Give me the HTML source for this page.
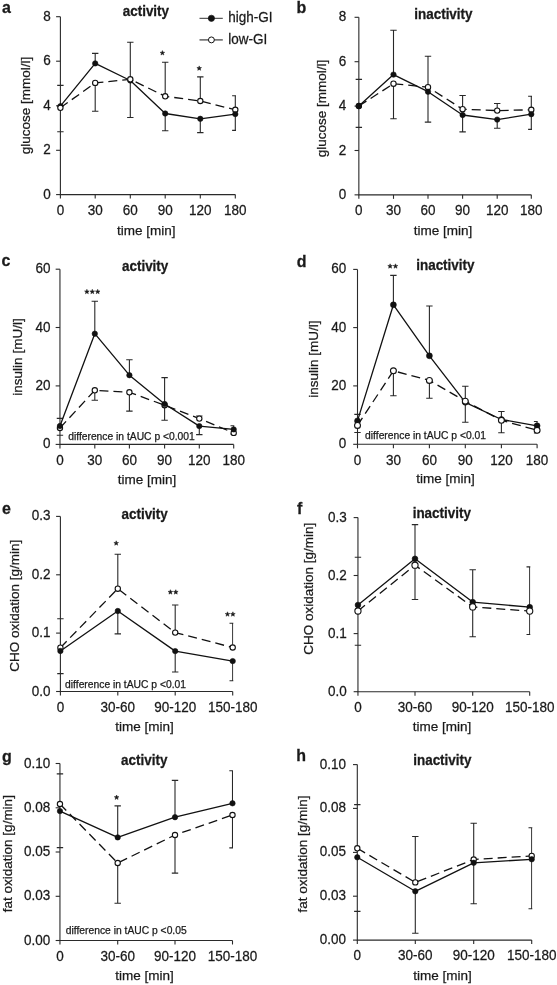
<!DOCTYPE html>
<html><head><meta charset="utf-8"><style>
html,body{margin:0;padding:0;background:#fff;}body{width:557px;height:985px;overflow:hidden;}
svg{display:block;will-change:transform;}
text{font-family:"Liberation Sans", sans-serif;fill:#1a1a1a;stroke:#1a1a1a;stroke-width:0.25px;}
</style></head><body>
<svg width="557" height="985" viewBox="0 0 557 985">
<rect width="557" height="985" fill="#fff"/>
<g><path d="M60.4 16.7V194.6H235.3" fill="none" stroke="#2a2a2a" stroke-width="1.1"/><path d="M56.1 194.6H60.4" stroke="#2a2a2a" stroke-width="1.1"/><text transform="translate(50.7 198.65) scale(1 1.045)" font-size="13.5" text-anchor="end" font-weight="normal">0</text><path d="M56.1 150.3H60.4" stroke="#2a2a2a" stroke-width="1.1"/><text transform="translate(50.7 154.35) scale(1 1.045)" font-size="13.5" text-anchor="end" font-weight="normal">2</text><path d="M56.1 105.8H60.4" stroke="#2a2a2a" stroke-width="1.1"/><text transform="translate(50.7 109.85) scale(1 1.045)" font-size="13.5" text-anchor="end" font-weight="normal">4</text><path d="M56.1 61.2H60.4" stroke="#2a2a2a" stroke-width="1.1"/><text transform="translate(50.7 65.25) scale(1 1.045)" font-size="13.5" text-anchor="end" font-weight="normal">6</text><path d="M56.1 16.7H60.4" stroke="#2a2a2a" stroke-width="1.1"/><text transform="translate(50.7 20.75) scale(1 1.045)" font-size="13.5" text-anchor="end" font-weight="normal">8</text><path d="M60.4 194.6V198.6" stroke="#2a2a2a" stroke-width="1.1"/><text transform="translate(60.4 214.8) scale(1 1.045)" font-size="13.5" text-anchor="middle" font-weight="normal">0</text><path d="M95.2 194.6V198.6" stroke="#2a2a2a" stroke-width="1.1"/><text transform="translate(95.2 214.8) scale(1 1.045)" font-size="13.5" text-anchor="middle" font-weight="normal">30</text><path d="M130.3 194.6V198.6" stroke="#2a2a2a" stroke-width="1.1"/><text transform="translate(130.3 214.8) scale(1 1.045)" font-size="13.5" text-anchor="middle" font-weight="normal">60</text><path d="M165.2 194.6V198.6" stroke="#2a2a2a" stroke-width="1.1"/><text transform="translate(165.2 214.8) scale(1 1.045)" font-size="13.5" text-anchor="middle" font-weight="normal">90</text><path d="M200.3 194.6V198.6" stroke="#2a2a2a" stroke-width="1.1"/><text transform="translate(200.3 214.8) scale(1 1.045)" font-size="13.5" text-anchor="middle" font-weight="normal">120</text><path d="M235.3 194.6V198.6" stroke="#2a2a2a" stroke-width="1.1"/><text transform="translate(235.3 214.8) scale(1 1.045)" font-size="13.5" text-anchor="middle" font-weight="normal">180</text><clipPath id="clip0"><rect x="0" y="0" width="235.9" height="985"/></clipPath><path clip-path="url(#clip0)" d="M57.2 85.4H63.6M57.2 131.8H63.6M95.2 63.4V53.4M92 53.4H98.4M95.2 82.9V111.3M92 111.3H98.4M130.3 79.3V42.3M127.1 42.3H133.5M130.3 80.5V117.5M127.1 117.5H133.5M165.2 96.3V62.2M162 62.2H168.4M165.2 113.5V130.7M162 130.7H168.4M200.3 101V76.9M197.1 76.9H203.5M200.3 118.8V132.6M197.1 132.6H203.5M235.3 109.8V95.8M232.1 95.8H238.5M235.3 114.1V130.4M232.1 130.4H238.5" fill="none" stroke="#282828" stroke-width="1.1"/><polyline points="60.4,106.2 95.2,63.4 130.3,80.5 165.2,113.5 200.3,118.8 235.3,114.1" fill="none" stroke="#111" stroke-width="1.3" stroke-linejoin="round"/><polyline points="60.4,107.8 95.2,82.9 130.3,79.3 165.2,96.3 200.3,101 235.3,109.8" fill="none" stroke="#111" stroke-width="1.3" stroke-dasharray="9 5"/><circle cx="60.4" cy="106.2" r="2.7" fill="#111" stroke="#111" stroke-width="0.6"/><circle cx="60.4" cy="107.8" r="2.65" fill="#fff" stroke="#111" stroke-width="1.1"/><circle cx="95.2" cy="63.4" r="2.7" fill="#111" stroke="#111" stroke-width="0.6"/><circle cx="95.2" cy="82.9" r="2.65" fill="#fff" stroke="#111" stroke-width="1.1"/><circle cx="130.3" cy="80.5" r="2.7" fill="#111" stroke="#111" stroke-width="0.6"/><circle cx="130.3" cy="79.3" r="2.65" fill="#fff" stroke="#111" stroke-width="1.1"/><circle cx="165.2" cy="113.5" r="2.7" fill="#111" stroke="#111" stroke-width="0.6"/><circle cx="165.2" cy="96.3" r="2.65" fill="#fff" stroke="#111" stroke-width="1.1"/><circle cx="200.3" cy="118.8" r="2.7" fill="#111" stroke="#111" stroke-width="0.6"/><circle cx="200.3" cy="101" r="2.65" fill="#fff" stroke="#111" stroke-width="1.1"/><circle cx="235.3" cy="109.8" r="2.65" fill="#fff" stroke="#111" stroke-width="1.1"/><circle cx="235.3" cy="114.1" r="2.7" fill="#111" stroke="#111" stroke-width="0.6"/><polygon points="162.4,50.6 163.02,52.2 164.73,52.29 163.4,53.37 163.84,55.03 162.4,54.1 160.96,55.03 161.4,53.37 160.07,52.29 161.78,52.2" fill="#1a1a1a" stroke="#1a1a1a" stroke-width="0.5" stroke-linejoin="round"/><polygon points="199.2,65.9 199.82,67.5 201.53,67.59 200.2,68.67 200.64,70.33 199.2,69.4 197.76,70.33 198.2,68.67 196.87,67.59 198.58,67.5" fill="#1a1a1a" stroke="#1a1a1a" stroke-width="0.5" stroke-linejoin="round"/><text transform="translate(145.9 15.9) scale(1 1.05)" font-size="13.45" text-anchor="middle" font-weight="bold">activity</text><text transform="translate(2 12.6) scale(1 1.06)" font-size="16" text-anchor="start" font-weight="bold">a</text><text transform="translate(29.6 105.4) rotate(-90)" font-size="13.5" text-anchor="middle">glucose [mmol/l]</text><text x="146.35" y="234.8" font-size="13.5" text-anchor="middle" font-weight="normal">time [min]</text><path d="M199.5 18.3H222.8" stroke="#1a1a1a" stroke-width="0.9"/><path d="M199.5 39.9H222.8" stroke="#4a4a4a" stroke-width="1.3"/><circle cx="211.4" cy="18.3" r="3.15" fill="#111" stroke="#111" stroke-width="0.6"/><circle cx="211.4" cy="39.9" r="2.95" fill="#fff" stroke="#111" stroke-width="1.0"/><text transform="translate(228.3 22.4) scale(1 1.05)" font-size="13.5" text-anchor="start" font-weight="normal">high-GI</text><text transform="translate(228.3 44) scale(1 1.05)" font-size="13.5" text-anchor="start" font-weight="normal">low-GI</text></g>
<g><path d="M358.85 17.3V194.85H531.3" fill="none" stroke="#2a2a2a" stroke-width="1.1"/><path d="M354.55 194.85H358.85" stroke="#2a2a2a" stroke-width="1.1"/><text transform="translate(346.25 198.9) scale(1 1.045)" font-size="13.5" text-anchor="end" font-weight="normal">0</text><path d="M354.55 150.5H358.85" stroke="#2a2a2a" stroke-width="1.1"/><text transform="translate(346.25 154.55) scale(1 1.045)" font-size="13.5" text-anchor="end" font-weight="normal">2</text><path d="M354.55 106.1H358.85" stroke="#2a2a2a" stroke-width="1.1"/><text transform="translate(346.25 110.15) scale(1 1.045)" font-size="13.5" text-anchor="end" font-weight="normal">4</text><path d="M354.55 61.7H358.85" stroke="#2a2a2a" stroke-width="1.1"/><text transform="translate(346.25 65.75) scale(1 1.045)" font-size="13.5" text-anchor="end" font-weight="normal">6</text><path d="M354.55 17.3H358.85" stroke="#2a2a2a" stroke-width="1.1"/><text transform="translate(346.25 21.35) scale(1 1.045)" font-size="13.5" text-anchor="end" font-weight="normal">8</text><path d="M358.85 194.85V198.85" stroke="#2a2a2a" stroke-width="1.1"/><text transform="translate(358.85 215.05) scale(1 1.045)" font-size="13.5" text-anchor="middle" font-weight="normal">0</text><path d="M393.5 194.85V198.85" stroke="#2a2a2a" stroke-width="1.1"/><text transform="translate(393.5 215.05) scale(1 1.045)" font-size="13.5" text-anchor="middle" font-weight="normal">30</text><path d="M428 194.85V198.85" stroke="#2a2a2a" stroke-width="1.1"/><text transform="translate(428 215.05) scale(1 1.045)" font-size="13.5" text-anchor="middle" font-weight="normal">60</text><path d="M462.6 194.85V198.85" stroke="#2a2a2a" stroke-width="1.1"/><text transform="translate(462.6 215.05) scale(1 1.045)" font-size="13.5" text-anchor="middle" font-weight="normal">90</text><path d="M497.2 194.85V198.85" stroke="#2a2a2a" stroke-width="1.1"/><text transform="translate(497.2 215.05) scale(1 1.045)" font-size="13.5" text-anchor="middle" font-weight="normal">120</text><path d="M531.3 194.85V198.85" stroke="#2a2a2a" stroke-width="1.1"/><text transform="translate(531.3 215.05) scale(1 1.045)" font-size="13.5" text-anchor="middle" font-weight="normal">180</text><clipPath id="clip1"><rect x="0" y="0" width="531.9" height="985"/></clipPath><path clip-path="url(#clip1)" d="M355.65 79.4H362.05M355.65 127.4H362.05M393.5 74.6V30.2M390.3 30.2H396.7M393.5 83.7V118.7M390.3 118.7H396.7M428 87.2V56.3M424.8 56.3H431.2M428 91.7V122.1M424.8 122.1H431.2M462.6 109.2V95.5M459.4 95.5H465.8M462.6 115V131.9M459.4 131.9H465.8M497.2 110.6V103.5M494 103.5H500.4M497.2 119.6V128.2M494 128.2H500.4M531.3 109.8V96.3M528.1 96.3H534.5M531.3 114.2V129.4M528.1 129.4H534.5" fill="none" stroke="#282828" stroke-width="1.1"/><polyline points="358.85,106 393.5,74.6 428,91.7 462.6,115 497.2,119.6 531.3,114.2" fill="none" stroke="#111" stroke-width="1.3" stroke-linejoin="round"/><polyline points="358.85,106 393.5,83.7 428,87.2 462.6,109.2 497.2,110.6 531.3,109.8" fill="none" stroke="#111" stroke-width="1.3" stroke-dasharray="9 5"/><circle cx="358.85" cy="106" r="2.65" fill="#fff" stroke="#111" stroke-width="1.1"/><circle cx="358.85" cy="106" r="2.7" fill="#111" stroke="#111" stroke-width="0.6"/><circle cx="393.5" cy="83.7" r="2.65" fill="#fff" stroke="#111" stroke-width="1.1"/><circle cx="393.5" cy="74.6" r="2.7" fill="#111" stroke="#111" stroke-width="0.6"/><circle cx="428" cy="87.2" r="2.65" fill="#fff" stroke="#111" stroke-width="1.1"/><circle cx="428" cy="91.7" r="2.7" fill="#111" stroke="#111" stroke-width="0.6"/><circle cx="462.6" cy="109.2" r="2.65" fill="#fff" stroke="#111" stroke-width="1.1"/><circle cx="462.6" cy="115" r="2.7" fill="#111" stroke="#111" stroke-width="0.6"/><circle cx="497.2" cy="110.6" r="2.65" fill="#fff" stroke="#111" stroke-width="1.1"/><circle cx="497.2" cy="119.6" r="2.7" fill="#111" stroke="#111" stroke-width="0.6"/><circle cx="531.3" cy="109.8" r="2.65" fill="#fff" stroke="#111" stroke-width="1.1"/><circle cx="531.3" cy="114.2" r="2.7" fill="#111" stroke="#111" stroke-width="0.6"/><text transform="translate(443.4 18.8) scale(1 1.05)" font-size="13.45" text-anchor="middle" font-weight="bold">inactivity</text><text transform="translate(296.5 12.6) scale(1 1.06)" font-size="16" text-anchor="start" font-weight="bold">b</text><text transform="translate(326.1 108.6) rotate(-90)" font-size="13.5" text-anchor="middle">glucose [mmol/l]</text><text x="443" y="235.1" font-size="13.5" text-anchor="middle" font-weight="normal">time [min]</text></g>
<g><path d="M59.95 269.2V444.4H233.7" fill="none" stroke="#2a2a2a" stroke-width="1.1"/><path d="M55.65 444.4H59.95" stroke="#2a2a2a" stroke-width="1.1"/><text transform="translate(50.5 448.45) scale(1 1.045)" font-size="13.5" text-anchor="end" font-weight="normal">0</text><path d="M55.65 385.9H59.95" stroke="#2a2a2a" stroke-width="1.1"/><text transform="translate(50.5 389.95) scale(1 1.045)" font-size="13.5" text-anchor="end" font-weight="normal">20</text><path d="M55.65 327.5H59.95" stroke="#2a2a2a" stroke-width="1.1"/><text transform="translate(50.5 331.55) scale(1 1.045)" font-size="13.5" text-anchor="end" font-weight="normal">40</text><path d="M55.65 269.2H59.95" stroke="#2a2a2a" stroke-width="1.1"/><text transform="translate(50.5 273.25) scale(1 1.045)" font-size="13.5" text-anchor="end" font-weight="normal">60</text><path d="M59.95 444.4V448.4" stroke="#2a2a2a" stroke-width="1.1"/><text transform="translate(59.95 464.6) scale(1 1.045)" font-size="13.5" text-anchor="middle" font-weight="normal">0</text><path d="M94.8 444.4V448.4" stroke="#2a2a2a" stroke-width="1.1"/><text transform="translate(94.8 464.6) scale(1 1.045)" font-size="13.5" text-anchor="middle" font-weight="normal">30</text><path d="M129.4 444.4V448.4" stroke="#2a2a2a" stroke-width="1.1"/><text transform="translate(129.4 464.6) scale(1 1.045)" font-size="13.5" text-anchor="middle" font-weight="normal">60</text><path d="M164.6 444.4V448.4" stroke="#2a2a2a" stroke-width="1.1"/><text transform="translate(164.6 464.6) scale(1 1.045)" font-size="13.5" text-anchor="middle" font-weight="normal">90</text><path d="M199.3 444.4V448.4" stroke="#2a2a2a" stroke-width="1.1"/><text transform="translate(199.3 464.6) scale(1 1.045)" font-size="13.5" text-anchor="middle" font-weight="normal">120</text><path d="M233.7 444.4V448.4" stroke="#2a2a2a" stroke-width="1.1"/><text transform="translate(233.7 464.6) scale(1 1.045)" font-size="13.5" text-anchor="middle" font-weight="normal">180</text><clipPath id="clip2"><rect x="0" y="0" width="234.3" height="985"/></clipPath><path clip-path="url(#clip2)" d="M56.75 418.4H63.15M56.75 435.3H63.15M94.8 333.7V301.3M91.6 301.3H98M94.8 390.3V400.3M91.6 400.3H98M129.4 375.2V359.8M126.2 359.8H132.6M129.4 392.3V411.1M126.2 411.1H132.6M164.6 404V377.6M161.4 377.6H167.8M164.6 405.2V420.3M161.4 420.3H167.8M199.3 418.6V416M196.1 416H202.5M199.3 426.1V434.6M196.1 434.6H202.5M233.7 429.4V425.8M230.5 425.8H236.9M233.7 432.9V434M230.5 434H236.9" fill="none" stroke="#282828" stroke-width="1.1"/><polyline points="59.95,426 94.8,333.7 129.4,375.2 164.6,404 199.3,426.1 233.7,429.4" fill="none" stroke="#111" stroke-width="1.3" stroke-linejoin="round"/><polyline points="59.95,428 94.8,390.3 129.4,392.3 164.6,405.2 199.3,418.6 233.7,432.9" fill="none" stroke="#111" stroke-width="1.3" stroke-dasharray="9 5"/><circle cx="59.95" cy="428" r="2.65" fill="#fff" stroke="#111" stroke-width="1.1"/><circle cx="59.95" cy="426" r="2.7" fill="#111" stroke="#111" stroke-width="0.6"/><circle cx="94.8" cy="390.3" r="2.65" fill="#fff" stroke="#111" stroke-width="1.1"/><circle cx="94.8" cy="333.7" r="2.7" fill="#111" stroke="#111" stroke-width="0.6"/><circle cx="129.4" cy="392.3" r="2.65" fill="#fff" stroke="#111" stroke-width="1.1"/><circle cx="129.4" cy="375.2" r="2.7" fill="#111" stroke="#111" stroke-width="0.6"/><circle cx="164.6" cy="405.2" r="2.65" fill="#fff" stroke="#111" stroke-width="1.1"/><circle cx="164.6" cy="404" r="2.7" fill="#111" stroke="#111" stroke-width="0.6"/><circle cx="199.3" cy="418.6" r="2.65" fill="#fff" stroke="#111" stroke-width="1.1"/><circle cx="199.3" cy="426.1" r="2.7" fill="#111" stroke="#111" stroke-width="0.6"/><circle cx="233.7" cy="432.9" r="2.65" fill="#fff" stroke="#111" stroke-width="1.1"/><circle cx="233.7" cy="429.4" r="2.7" fill="#111" stroke="#111" stroke-width="0.6"/><polygon points="86.9,289.3 87.52,290.9 89.23,290.99 87.9,292.07 88.34,293.73 86.9,292.8 85.46,293.73 85.9,292.07 84.57,290.99 86.28,290.9" fill="#1a1a1a" stroke="#1a1a1a" stroke-width="0.5" stroke-linejoin="round"/><polygon points="92.3,289.3 92.92,290.9 94.63,290.99 93.3,292.07 93.74,293.73 92.3,292.8 90.86,293.73 91.3,292.07 89.97,290.99 91.68,290.9" fill="#1a1a1a" stroke="#1a1a1a" stroke-width="0.5" stroke-linejoin="round"/><polygon points="97.7,289.3 98.32,290.9 100.03,290.99 98.7,292.07 99.14,293.73 97.7,292.8 96.26,293.73 96.7,292.07 95.37,290.99 97.08,290.9" fill="#1a1a1a" stroke="#1a1a1a" stroke-width="0.5" stroke-linejoin="round"/><text transform="translate(145.15 270.9) scale(1 1.05)" font-size="13.45" text-anchor="middle" font-weight="bold">activity</text><text transform="translate(1.5 266.1) scale(1 1.06)" font-size="16" text-anchor="start" font-weight="bold">c</text><text transform="translate(21.9 357) rotate(-90)" font-size="13.5" text-anchor="middle">insulin [mU/l]</text><text x="147.1" y="484.3" font-size="13.5" text-anchor="middle" font-weight="normal">time [min]</text><text x="68.2" y="439.6" font-size="10.3" text-anchor="start" font-weight="normal">difference in tAUC p <0.001</text></g>
<g><path d="M357.5 269.4V444.3H537.1" fill="none" stroke="#2a2a2a" stroke-width="1.1"/><path d="M353.2 444.3H357.5" stroke="#2a2a2a" stroke-width="1.1"/><text transform="translate(346.25 448.35) scale(1 1.045)" font-size="13.5" text-anchor="end" font-weight="normal">0</text><path d="M353.2 385.9H357.5" stroke="#2a2a2a" stroke-width="1.1"/><text transform="translate(346.25 389.95) scale(1 1.045)" font-size="13.5" text-anchor="end" font-weight="normal">20</text><path d="M353.2 327.6H357.5" stroke="#2a2a2a" stroke-width="1.1"/><text transform="translate(346.25 331.65) scale(1 1.045)" font-size="13.5" text-anchor="end" font-weight="normal">40</text><path d="M353.2 269.4H357.5" stroke="#2a2a2a" stroke-width="1.1"/><text transform="translate(346.25 273.45) scale(1 1.045)" font-size="13.5" text-anchor="end" font-weight="normal">60</text><path d="M357.5 444.3V448.3" stroke="#2a2a2a" stroke-width="1.1"/><text transform="translate(357.5 464.5) scale(1 1.045)" font-size="13.5" text-anchor="middle" font-weight="normal">0</text><path d="M393.4 444.3V448.3" stroke="#2a2a2a" stroke-width="1.1"/><text transform="translate(393.4 464.5) scale(1 1.045)" font-size="13.5" text-anchor="middle" font-weight="normal">30</text><path d="M429.4 444.3V448.3" stroke="#2a2a2a" stroke-width="1.1"/><text transform="translate(429.4 464.5) scale(1 1.045)" font-size="13.5" text-anchor="middle" font-weight="normal">60</text><path d="M465.3 444.3V448.3" stroke="#2a2a2a" stroke-width="1.1"/><text transform="translate(465.3 464.5) scale(1 1.045)" font-size="13.5" text-anchor="middle" font-weight="normal">90</text><path d="M501.4 444.3V448.3" stroke="#2a2a2a" stroke-width="1.1"/><text transform="translate(501.4 464.5) scale(1 1.045)" font-size="13.5" text-anchor="middle" font-weight="normal">120</text><path d="M537.1 444.3V448.3" stroke="#2a2a2a" stroke-width="1.1"/><text transform="translate(537.1 464.5) scale(1 1.045)" font-size="13.5" text-anchor="middle" font-weight="normal">180</text><clipPath id="clip3"><rect x="0" y="0" width="537.7" height="985"/></clipPath><path clip-path="url(#clip3)" d="M354.3 414.4H360.7M354.3 432.5H360.7M393.4 304.8V275.4M390.2 275.4H396.6M393.4 370.8V395.8M390.2 395.8H396.6M429.4 355.8V306M426.2 306H432.6M429.4 380.4V398.2M426.2 398.2H432.6M465.3 401.2V386.3M462.1 386.3H468.5M465.3 402.3V422.3M462.1 422.3H468.5M501.4 419.5V411.5M498.2 411.5H504.6M501.4 420.3V432.8M498.2 432.8H504.6M537.1 425.8V421.5M533.9 421.5H540.3M537.1 430.3V433M533.9 433H540.3" fill="none" stroke="#282828" stroke-width="1.1"/><polyline points="357.5,420.9 393.4,304.8 429.4,355.8 465.3,402.3 501.4,419.5 537.1,425.8" fill="none" stroke="#111" stroke-width="1.3" stroke-linejoin="round"/><polyline points="357.5,425.4 393.4,370.8 429.4,380.4 465.3,401.2 501.4,420.3 537.1,430.3" fill="none" stroke="#111" stroke-width="1.3" stroke-dasharray="9 5"/><circle cx="357.5" cy="420.9" r="2.95" fill="#111" stroke="#111" stroke-width="0.6"/><circle cx="357.5" cy="425.4" r="2.95" fill="#fff" stroke="#111" stroke-width="1.1"/><circle cx="393.4" cy="304.8" r="2.95" fill="#111" stroke="#111" stroke-width="0.6"/><circle cx="393.4" cy="370.8" r="2.95" fill="#fff" stroke="#111" stroke-width="1.1"/><circle cx="429.4" cy="355.8" r="2.95" fill="#111" stroke="#111" stroke-width="0.6"/><circle cx="429.4" cy="380.4" r="2.95" fill="#fff" stroke="#111" stroke-width="1.1"/><circle cx="465.3" cy="402.3" r="2.95" fill="#111" stroke="#111" stroke-width="0.6"/><circle cx="465.3" cy="401.2" r="2.95" fill="#fff" stroke="#111" stroke-width="1.1"/><circle cx="501.4" cy="419.5" r="2.95" fill="#111" stroke="#111" stroke-width="0.6"/><circle cx="501.4" cy="420.3" r="2.95" fill="#fff" stroke="#111" stroke-width="1.1"/><circle cx="537.1" cy="425.8" r="2.95" fill="#111" stroke="#111" stroke-width="0.6"/><circle cx="537.1" cy="430.3" r="2.95" fill="#fff" stroke="#111" stroke-width="1.1"/><polygon points="390.1,263.8 390.72,265.4 392.43,265.49 391.1,266.57 391.54,268.23 390.1,267.3 388.66,268.23 389.1,266.57 387.77,265.49 389.48,265.4" fill="#1a1a1a" stroke="#1a1a1a" stroke-width="0.5" stroke-linejoin="round"/><polygon points="395.5,263.8 396.12,265.4 397.83,265.49 396.5,266.57 396.94,268.23 395.5,267.3 394.06,268.23 394.5,266.57 393.17,265.49 394.88,265.4" fill="#1a1a1a" stroke="#1a1a1a" stroke-width="0.5" stroke-linejoin="round"/><text transform="translate(445.35 270.2) scale(1 1.05)" font-size="13.45" text-anchor="middle" font-weight="bold">inactivity</text><text transform="translate(296.8 267.2) scale(1 1.06)" font-size="16" text-anchor="start" font-weight="bold">d</text><text transform="translate(318.3 359.2) rotate(-90)" font-size="13.5" text-anchor="middle">insulin [mU/l]</text><text x="445.5" y="483.4" font-size="13.5" text-anchor="middle" font-weight="normal">time [min]</text><text x="365.1" y="439.1" font-size="10.3" text-anchor="start" font-weight="normal">difference in tAUC p <0.01</text></g>
<g><path d="M60.4 516.4V691.5H232.7" fill="none" stroke="#2a2a2a" stroke-width="1.1"/><path d="M56.1 691.5H60.4" stroke="#2a2a2a" stroke-width="1.1"/><text transform="translate(50.5 695.55) scale(1 1.045)" font-size="13.5" text-anchor="end" font-weight="normal">0.0</text><path d="M56.1 633.1H60.4" stroke="#2a2a2a" stroke-width="1.1"/><text transform="translate(50.5 637.15) scale(1 1.045)" font-size="13.5" text-anchor="end" font-weight="normal">0.1</text><path d="M56.1 574.8H60.4" stroke="#2a2a2a" stroke-width="1.1"/><text transform="translate(50.5 578.85) scale(1 1.045)" font-size="13.5" text-anchor="end" font-weight="normal">0.2</text><path d="M56.1 516.4H60.4" stroke="#2a2a2a" stroke-width="1.1"/><text transform="translate(50.5 520.45) scale(1 1.045)" font-size="13.5" text-anchor="end" font-weight="normal">0.3</text><path d="M60.4 691.5V695.5" stroke="#2a2a2a" stroke-width="1.1"/><text transform="translate(60.4 711.7) scale(1 1.045)" font-size="13.5" text-anchor="middle" font-weight="normal">0</text><path d="M117.8 691.5V695.5" stroke="#2a2a2a" stroke-width="1.1"/><text transform="translate(117.8 711.7) scale(1 1.045)" font-size="13.5" text-anchor="middle" font-weight="normal">30-60</text><path d="M175.2 691.5V695.5" stroke="#2a2a2a" stroke-width="1.1"/><text transform="translate(175.2 711.7) scale(1 1.045)" font-size="13.5" text-anchor="middle" font-weight="normal">90-120</text><path d="M232.7 691.5V695.5" stroke="#2a2a2a" stroke-width="1.1"/><text transform="translate(232.7 711.7) scale(1 1.045)" font-size="13.5" text-anchor="middle" font-weight="normal">150-180</text><clipPath id="clip4"><rect x="0" y="0" width="233.3" height="985"/></clipPath><path clip-path="url(#clip4)" d="M57.2 618.8H63.6M57.2 673.6H63.6M117.8 588.7V554.3M114.6 554.3H121M117.8 611V633.9M114.6 633.9H121M175.2 632.6V605M172 605H178.4M175.2 651.1V672M172 672H178.4M232.7 647.5V623.3M229.5 623.3H235.9M232.7 661.1V680.7M229.5 680.7H235.9" fill="none" stroke="#282828" stroke-width="1.1"/><polyline points="60.4,651 117.8,611 175.2,651.1 232.7,661.1" fill="none" stroke="#111" stroke-width="1.3" stroke-linejoin="round"/><polyline points="60.4,647.7 117.8,588.7 175.2,632.6 232.7,647.5" fill="none" stroke="#111" stroke-width="1.3" stroke-dasharray="9 5"/><circle cx="60.4" cy="647.7" r="2.65" fill="#fff" stroke="#111" stroke-width="1.1"/><circle cx="60.4" cy="651" r="2.7" fill="#111" stroke="#111" stroke-width="0.6"/><circle cx="117.8" cy="588.7" r="2.65" fill="#fff" stroke="#111" stroke-width="1.1"/><circle cx="117.8" cy="611" r="2.7" fill="#111" stroke="#111" stroke-width="0.6"/><circle cx="175.2" cy="632.6" r="2.65" fill="#fff" stroke="#111" stroke-width="1.1"/><circle cx="175.2" cy="651.1" r="2.7" fill="#111" stroke="#111" stroke-width="0.6"/><circle cx="232.7" cy="647.5" r="2.65" fill="#fff" stroke="#111" stroke-width="1.1"/><circle cx="232.7" cy="661.1" r="2.7" fill="#111" stroke="#111" stroke-width="0.6"/><polygon points="116.2,540.8 116.82,542.4 118.53,542.49 117.2,543.57 117.64,545.23 116.2,544.3 114.76,545.23 115.2,543.57 113.87,542.49 115.58,542.4" fill="#1a1a1a" stroke="#1a1a1a" stroke-width="0.5" stroke-linejoin="round"/><polygon points="170.4,589.7 171.02,591.3 172.73,591.39 171.4,592.47 171.84,594.13 170.4,593.2 168.96,594.13 169.4,592.47 168.07,591.39 169.78,591.3" fill="#1a1a1a" stroke="#1a1a1a" stroke-width="0.5" stroke-linejoin="round"/><polygon points="175.8,589.7 176.42,591.3 178.13,591.39 176.8,592.47 177.24,594.13 175.8,593.2 174.36,594.13 174.8,592.47 173.47,591.39 175.18,591.3" fill="#1a1a1a" stroke="#1a1a1a" stroke-width="0.5" stroke-linejoin="round"/><polygon points="227.5,611.8 228.12,613.4 229.83,613.49 228.5,614.57 228.94,616.23 227.5,615.3 226.06,616.23 226.5,614.57 225.17,613.49 226.88,613.4" fill="#1a1a1a" stroke="#1a1a1a" stroke-width="0.5" stroke-linejoin="round"/><polygon points="232.9,611.8 233.52,613.4 235.23,613.49 233.9,614.57 234.34,616.23 232.9,615.3 231.46,616.23 231.9,614.57 230.57,613.49 232.28,613.4" fill="#1a1a1a" stroke="#1a1a1a" stroke-width="0.5" stroke-linejoin="round"/><text transform="translate(144.65 518.5) scale(1 1.05)" font-size="13.45" text-anchor="middle" font-weight="bold">activity</text><text transform="translate(2 513.9) scale(1 1.06)" font-size="16" text-anchor="start" font-weight="bold">e</text><text transform="translate(18.5 605.65) rotate(-90)" font-size="13.5" text-anchor="middle">CHO oxidation [g/min]</text><text x="144.4" y="730.7" font-size="13.5" text-anchor="middle" font-weight="normal">time [min]</text><text x="65.1" y="687.9" font-size="10.3" text-anchor="start" font-weight="normal">difference in tAUC p <0.01</text></g>
<g><path d="M357.95 517.6V691.7H529.7" fill="none" stroke="#2a2a2a" stroke-width="1.1"/><path d="M353.65 691.7H357.95" stroke="#2a2a2a" stroke-width="1.1"/><text transform="translate(346.7 695.75) scale(1 1.045)" font-size="13.5" text-anchor="end" font-weight="normal">0.0</text><path d="M353.65 633.6H357.95" stroke="#2a2a2a" stroke-width="1.1"/><text transform="translate(346.7 637.65) scale(1 1.045)" font-size="13.5" text-anchor="end" font-weight="normal">0.1</text><path d="M353.65 575.5H357.95" stroke="#2a2a2a" stroke-width="1.1"/><text transform="translate(346.7 579.55) scale(1 1.045)" font-size="13.5" text-anchor="end" font-weight="normal">0.2</text><path d="M353.65 517.6H357.95" stroke="#2a2a2a" stroke-width="1.1"/><text transform="translate(346.7 521.65) scale(1 1.045)" font-size="13.5" text-anchor="end" font-weight="normal">0.3</text><path d="M357.95 691.7V695.7" stroke="#2a2a2a" stroke-width="1.1"/><text transform="translate(357.95 711.9) scale(1 1.045)" font-size="13.5" text-anchor="middle" font-weight="normal">0</text><path d="M415 691.7V695.7" stroke="#2a2a2a" stroke-width="1.1"/><text transform="translate(415 711.9) scale(1 1.045)" font-size="13.5" text-anchor="middle" font-weight="normal">30-60</text><path d="M472.7 691.7V695.7" stroke="#2a2a2a" stroke-width="1.1"/><text transform="translate(472.7 711.9) scale(1 1.045)" font-size="13.5" text-anchor="middle" font-weight="normal">90-120</text><path d="M529.7 691.7V695.7" stroke="#2a2a2a" stroke-width="1.1"/><text transform="translate(529.7 711.9) scale(1 1.045)" font-size="13.5" text-anchor="middle" font-weight="normal">150-180</text><clipPath id="clip5"><rect x="0" y="0" width="530.3" height="985"/></clipPath><path clip-path="url(#clip5)" d="M354.75 557.3H361.15M354.75 645.2H361.15M415 558.8V524.6M411.8 524.6H418.2M415 565.2V599.5M411.8 599.5H418.2M472.7 602.1V569.7M469.5 569.7H475.9M472.7 606.9V636.8M469.5 636.8H475.9M529.7 607.2V566.9M526.5 566.9H532.9M529.7 611.1V634.5M526.5 634.5H532.9" fill="none" stroke="#282828" stroke-width="1.1"/><polyline points="357.95,605 415,558.8 472.7,602.1 529.7,607.2" fill="none" stroke="#111" stroke-width="1.3" stroke-linejoin="round"/><polyline points="357.95,611 415,565.2 472.7,606.9 529.7,611.1" fill="none" stroke="#111" stroke-width="1.3" stroke-dasharray="9 5"/><circle cx="357.95" cy="605" r="2.85" fill="#111" stroke="#111" stroke-width="0.6"/><circle cx="357.95" cy="611" r="3.1" fill="#fff" stroke="#111" stroke-width="1.1"/><circle cx="415" cy="558.8" r="2.85" fill="#111" stroke="#111" stroke-width="0.6"/><circle cx="415" cy="565.2" r="3.1" fill="#fff" stroke="#111" stroke-width="1.1"/><circle cx="472.7" cy="602.1" r="2.85" fill="#111" stroke="#111" stroke-width="0.6"/><circle cx="472.7" cy="606.9" r="3.1" fill="#fff" stroke="#111" stroke-width="1.1"/><circle cx="529.7" cy="607.2" r="2.85" fill="#111" stroke="#111" stroke-width="0.6"/><circle cx="529.7" cy="611.1" r="3.1" fill="#fff" stroke="#111" stroke-width="1.1"/><text transform="translate(441.8 518.1) scale(1 1.05)" font-size="13.45" text-anchor="middle" font-weight="bold">inactivity</text><text transform="translate(297 513.9) scale(1 1.06)" font-size="16" text-anchor="start" font-weight="bold">f</text><text transform="translate(313.2 588.65) rotate(-90)" font-size="13.5" text-anchor="middle">CHO oxidation [g/min]</text><text x="441.9" y="730.9" font-size="13.5" text-anchor="middle" font-weight="normal">time [min]</text></g>
<g><path d="M59.95 763.5V940.5H232.5" fill="none" stroke="#2a2a2a" stroke-width="1.1"/><path d="M55.65 940.5H59.95" stroke="#2a2a2a" stroke-width="1.1"/><text transform="translate(50.2 944.55) scale(1 1.045)" font-size="13.5" text-anchor="end" font-weight="normal">0.00</text><path d="M55.65 896.3H59.95" stroke="#2a2a2a" stroke-width="1.1"/><text transform="translate(50.2 900.35) scale(1 1.045)" font-size="13.5" text-anchor="end" font-weight="normal">0.03</text><path d="M55.65 852H59.95" stroke="#2a2a2a" stroke-width="1.1"/><text transform="translate(50.2 856.05) scale(1 1.045)" font-size="13.5" text-anchor="end" font-weight="normal">0.05</text><path d="M55.65 807.8H59.95" stroke="#2a2a2a" stroke-width="1.1"/><text transform="translate(50.2 811.85) scale(1 1.045)" font-size="13.5" text-anchor="end" font-weight="normal">0.08</text><path d="M55.65 763.5H59.95" stroke="#2a2a2a" stroke-width="1.1"/><text transform="translate(50.2 767.55) scale(1 1.045)" font-size="13.5" text-anchor="end" font-weight="normal">0.10</text><path d="M59.95 940.5V944.5" stroke="#2a2a2a" stroke-width="1.1"/><text transform="translate(59.95 960.7) scale(1 1.045)" font-size="13.5" text-anchor="middle" font-weight="normal">0</text><path d="M117.7 940.5V944.5" stroke="#2a2a2a" stroke-width="1.1"/><text transform="translate(117.7 960.7) scale(1 1.045)" font-size="13.5" text-anchor="middle" font-weight="normal">30-60</text><path d="M175 940.5V944.5" stroke="#2a2a2a" stroke-width="1.1"/><text transform="translate(175 960.7) scale(1 1.045)" font-size="13.5" text-anchor="middle" font-weight="normal">90-120</text><path d="M232.5 940.5V944.5" stroke="#2a2a2a" stroke-width="1.1"/><text transform="translate(232.5 960.7) scale(1 1.045)" font-size="13.5" text-anchor="middle" font-weight="normal">150-180</text><clipPath id="clip6"><rect x="0" y="0" width="233.1" height="985"/></clipPath><path clip-path="url(#clip6)" d="M56.75 773.9H63.15M56.75 847.6H63.15M117.7 837.4V805.9M114.5 805.9H120.9M117.7 863V903.3M114.5 903.3H120.9M175 817.2V780.4M171.8 780.4H178.2M175 835V873.1M171.8 873.1H178.2M232.5 803.3V770.7M229.3 770.7H235.7M232.5 815V847.9M229.3 847.9H235.7" fill="none" stroke="#282828" stroke-width="1.1"/><polyline points="59.95,811.1 117.7,837.4 175,817.2 232.5,803.3" fill="none" stroke="#111" stroke-width="1.3" stroke-linejoin="round"/><polyline points="59.95,804 117.7,863 175,835 232.5,815" fill="none" stroke="#111" stroke-width="1.3" stroke-dasharray="9 5"/><circle cx="59.95" cy="804" r="2.65" fill="#fff" stroke="#111" stroke-width="1.1"/><circle cx="59.95" cy="811.1" r="2.7" fill="#111" stroke="#111" stroke-width="0.6"/><circle cx="117.7" cy="863" r="2.65" fill="#fff" stroke="#111" stroke-width="1.1"/><circle cx="117.7" cy="837.4" r="2.7" fill="#111" stroke="#111" stroke-width="0.6"/><circle cx="175" cy="835" r="2.65" fill="#fff" stroke="#111" stroke-width="1.1"/><circle cx="175" cy="817.2" r="2.7" fill="#111" stroke="#111" stroke-width="0.6"/><circle cx="232.5" cy="815" r="2.65" fill="#fff" stroke="#111" stroke-width="1.1"/><circle cx="232.5" cy="803.3" r="2.7" fill="#111" stroke="#111" stroke-width="0.6"/><polygon points="116.6,795 117.22,796.6 118.93,796.69 117.6,797.77 118.04,799.43 116.6,798.5 115.16,799.43 115.6,797.77 114.27,796.69 115.98,796.6" fill="#1a1a1a" stroke="#1a1a1a" stroke-width="0.5" stroke-linejoin="round"/><text transform="translate(144.25 764.5) scale(1 1.05)" font-size="13.45" text-anchor="middle" font-weight="bold">activity</text><text transform="translate(2 761.8) scale(1 1.06)" font-size="16" text-anchor="start" font-weight="bold">g</text><text transform="translate(11.5 853.65) rotate(-90)" font-size="13.5" text-anchor="middle">fat oxidation [g/min]</text><text x="144.4" y="980.4" font-size="13.5" text-anchor="middle" font-weight="normal">time [min]</text><text x="65.8" y="933.95" font-size="10.3" text-anchor="start" font-weight="normal">difference in tAUC p <0.05</text></g>
<g><path d="M357.3 764.6V940.1H531.7" fill="none" stroke="#2a2a2a" stroke-width="1.1"/><path d="M353 940.1H357.3" stroke="#2a2a2a" stroke-width="1.1"/><text transform="translate(346 944.15) scale(1 1.045)" font-size="13.5" text-anchor="end" font-weight="normal">0.00</text><path d="M353 896.2H357.3" stroke="#2a2a2a" stroke-width="1.1"/><text transform="translate(346 900.25) scale(1 1.045)" font-size="13.5" text-anchor="end" font-weight="normal">0.03</text><path d="M353 852.4H357.3" stroke="#2a2a2a" stroke-width="1.1"/><text transform="translate(346 856.45) scale(1 1.045)" font-size="13.5" text-anchor="end" font-weight="normal">0.05</text><path d="M353 808.4H357.3" stroke="#2a2a2a" stroke-width="1.1"/><text transform="translate(346 812.45) scale(1 1.045)" font-size="13.5" text-anchor="end" font-weight="normal">0.08</text><path d="M353 764.6H357.3" stroke="#2a2a2a" stroke-width="1.1"/><text transform="translate(346 768.65) scale(1 1.045)" font-size="13.5" text-anchor="end" font-weight="normal">0.10</text><path d="M357.3 940.1V944.1" stroke="#2a2a2a" stroke-width="1.1"/><text transform="translate(357.3 960.3) scale(1 1.045)" font-size="13.5" text-anchor="middle" font-weight="normal">0</text><path d="M415.3 940.1V944.1" stroke="#2a2a2a" stroke-width="1.1"/><text transform="translate(415.3 960.3) scale(1 1.045)" font-size="13.5" text-anchor="middle" font-weight="normal">30-60</text><path d="M473.7 940.1V944.1" stroke="#2a2a2a" stroke-width="1.1"/><text transform="translate(473.7 960.3) scale(1 1.045)" font-size="13.5" text-anchor="middle" font-weight="normal">90-120</text><path d="M531.7 940.1V944.1" stroke="#2a2a2a" stroke-width="1.1"/><text transform="translate(531.7 960.3) scale(1 1.045)" font-size="13.5" text-anchor="middle" font-weight="normal">150-180</text><clipPath id="clip7"><rect x="0" y="0" width="532.3" height="985"/></clipPath><path clip-path="url(#clip7)" d="M354.1 804.6H360.5M354.1 911.4H360.5M415.3 882.4V836.5M412.1 836.5H418.5M415.3 891.3V933.3M412.1 933.3H418.5M473.7 859.5V823.3M470.5 823.3H476.9M473.7 862.8V903.7M470.5 903.7H476.9M531.7 855.9V827.8M528.5 827.8H534.9M531.7 859.3V908.8M528.5 908.8H534.9" fill="none" stroke="#282828" stroke-width="1.1"/><polyline points="357.3,857.3 415.3,891.3 473.7,862.8 531.7,859.3" fill="none" stroke="#111" stroke-width="1.3" stroke-linejoin="round"/><polyline points="357.3,848.3 415.3,882.4 473.7,859.5 531.7,855.9" fill="none" stroke="#111" stroke-width="1.3" stroke-dasharray="9 5"/><circle cx="357.3" cy="848.3" r="2.65" fill="#fff" stroke="#111" stroke-width="1.1"/><circle cx="357.3" cy="857.3" r="2.7" fill="#111" stroke="#111" stroke-width="0.6"/><circle cx="415.3" cy="882.4" r="2.65" fill="#fff" stroke="#111" stroke-width="1.1"/><circle cx="415.3" cy="891.3" r="2.7" fill="#111" stroke="#111" stroke-width="0.6"/><circle cx="473.7" cy="859.5" r="2.65" fill="#fff" stroke="#111" stroke-width="1.1"/><circle cx="473.7" cy="862.8" r="2.7" fill="#111" stroke="#111" stroke-width="0.6"/><circle cx="531.7" cy="855.9" r="2.65" fill="#fff" stroke="#111" stroke-width="1.1"/><circle cx="531.7" cy="859.3" r="2.7" fill="#111" stroke="#111" stroke-width="0.6"/><text transform="translate(442.35 764.5) scale(1 1.05)" font-size="13.45" text-anchor="middle" font-weight="bold">inactivity</text><text transform="translate(296.3 761.1) scale(1 1.06)" font-size="16" text-anchor="start" font-weight="bold">h</text><text transform="translate(306.7 854) rotate(-90)" font-size="13.5" text-anchor="middle">fat oxidation [g/min]</text><text x="442.4" y="980.4" font-size="13.5" text-anchor="middle" font-weight="normal">time [min]</text></g>
</svg>
</body></html>
